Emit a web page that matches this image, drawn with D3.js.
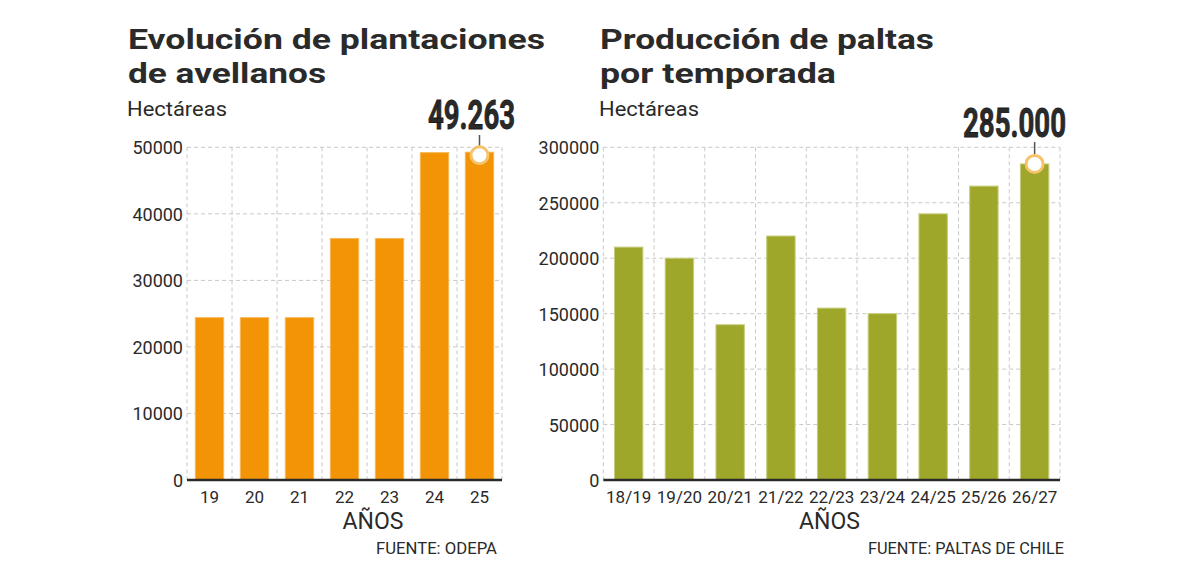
<!DOCTYPE html>
<html><head><meta charset="utf-8">
<script src="https://cdn.jsdelivr.net/npm/d3@7/dist/d3.min.js"></script>
<style>
html,body{margin:0;padding:0;background:#fff;}
text{font-family:Roboto,"Noto Sans",sans-serif;fill:#2a2a2a;}
</style></head>
<body>
<svg id="c" width="1200" height="574"></svg>
<script>
// Data
const avellanosYears = ["19","20","21","22","23","24","25"];
const avellanosValues = [24400, 24400, 24400, 36300, 36300, 49200, 49263];
const avellanosTicks = [0, 10000, 20000, 30000, 40000, 50000];

const paltasSeasons = ["18/19","19/20","20/21","21/22","22/23","23/24","24/25","25/26","26/27"];
const paltasValues = [210000, 200000, 140000, 220000, 155000, 150000, 240000, 265000, 285000];
const paltasTicks = [0, 50000, 100000, 150000, 200000, 250000, 300000];

const svg = d3.select("#c");

function drawChart(cfg){
  const g = svg.append("g");
  const x = d3.scaleBand().domain(cfg.cats).range([cfg.x0, cfg.x1]).paddingInner(cfg.pad).paddingOuter(cfg.pad/2);
  const xb = d3.scaleBand().domain(cfg.cats).range([cfg.x0, cfg.x1]);
  const y = d3.scaleLinear().domain([0, cfg.max]).range([cfg.y0, cfg.y1]);

  // Title
  cfg.title.forEach((t,i)=>{
    g.append("text").attr("x", cfg.tx).attr("y", 49 + i*34)
      .attr("font-size", 28).attr("font-weight", 700).attr("fill","#1a1a1a")
      .attr("textLength", cfg.titleW[i]).attr("lengthAdjust","spacingAndGlyphs")
      .text(t);
  });
  g.append("text").attr("x", cfg.tx - 1).attr("y", 116).attr("font-size", 20).attr("fill","#2a2a2a")
    .attr("textLength", 100).attr("lengthAdjust","spacingAndGlyphs").text("Hectáreas");

  // Grid horizontal
  g.append("g").selectAll("line").data(cfg.ticks.filter(d=>d>0)).join("line")
    .attr("x1", cfg.x0).attr("x2", cfg.x1).attr("y1", d=>y(d)).attr("y2", d=>y(d))
    .attr("stroke","#c8c8c8").attr("stroke-width",1).attr("stroke-dasharray","4,3");
  // Grid vertical at band boundaries
  const bounds = cfg.cats.map(c=>xb(c)).concat([cfg.x1]);
  g.append("g").selectAll("line").data(bounds).join("line")
    .attr("x1", d=>d).attr("x2", d=>d).attr("y1", y(cfg.max)).attr("y2", cfg.y0)
    .attr("stroke","#c8c8c8").attr("stroke-width",1).attr("stroke-dasharray","4,3");

  // Bars
  g.append("g").selectAll("rect").data(cfg.vals).join("rect")
    .attr("x", (d,i)=>x(cfg.cats[i])).attr("width", x.bandwidth())
    .attr("y", d=>y(d)).attr("height", d=>cfg.y0 - y(d))
    .attr("fill", cfg.color).attr("stroke", cfg.stroke).attr("stroke-width", 1);

  // Y axis labels
  const ya = d3.axisLeft(y).tickValues(cfg.ticks).tickSize(0).tickPadding(0).tickFormat(d3.format("d"));
  const yg = g.append("g").attr("transform", `translate(${cfg.x0 - 4},0)`).call(ya);
  yg.select(".domain").remove();
  yg.selectAll("text").attr("font-size", 18).attr("fill","#2a2a2a").attr("font-family","Roboto,sans-serif").attr("dy","0.36em");

  // X axis
  const xa = d3.axisBottom(xb).tickSize(0).tickPadding(0);
  const xg = g.append("g").attr("transform", `translate(0,${cfg.y0})`).call(xa);
  xg.select(".domain").remove();
  xg.selectAll("text").attr("font-size", 17).attr("fill","#2a2a2a").attr("font-family","Roboto,sans-serif").attr("dy", 0).attr("y", 23);
  g.append("line").attr("x1", cfg.x0).attr("x2", cfg.x1).attr("y1", cfg.y0).attr("y2", cfg.y0)
    .attr("stroke","#2a2a2a").attr("stroke-width",2.5);

  g.append("text").attr("x", cfg.anosX).attr("y", 529).attr("text-anchor","middle").attr("font-size", 23).text("AÑOS");
  g.append("text").attr("x", cfg.srcX).attr("y", 554).attr("text-anchor","end").attr("font-size", 16.5)
    .attr("textLength", cfg.srcW).attr("lengthAdjust","spacingAndGlyphs").text(cfg.src);

  // Highlight
  const li = cfg.vals.length - 1;
  const cx = x(cfg.cats[li]) + x.bandwidth()/2;
  const cy = y(cfg.vals[li]) + cfg.cOff;
  g.append("line").attr("x1", cx).attr("x2", cx).attr("y1", cfg.leadTop).attr("y2", cy - 9)
    .attr("stroke","#555").attr("stroke-width",1.5);
  g.append("circle").attr("cx", cx).attr("cy", cy).attr("r", 8.5)
    .attr("fill","#fff").attr("stroke","#f6c36a").attr("stroke-width",3);
  g.append("text").attr("x", cfg.bigX).attr("y", cfg.bigY)
    .attr("font-family","'Liberation Sans Narrow','DejaVu Sans Condensed',sans-serif")
    .attr("font-weight",700).attr("font-size", 40).attr("fill","#1a1a1a")
    .attr("textLength", cfg.bigW).attr("lengthAdjust","spacingAndGlyphs")
    .attr("stroke","#1a1a1a").attr("stroke-width",0.8)
    .text(cfg.bigLabel);
}

drawChart({
  cats: avellanosYears, vals: avellanosValues, ticks: avellanosTicks, max: 50000,
  x0: 187, x1: 502, y0: 480, y1: 147.3, pad: 0.37,
  color: "#f29406", stroke: "#f7b858",
  title: ["Evolución de plantaciones", "de avellanos"], titleW: [417, 198], tx: 128,
  anosX: 373, srcX: 497, src: "FUENTE: ODEPA", srcW: 121,
  bigLabel: "49.263", bigX: 428, bigY: 129, bigW: 87, leadTop: 135, cOff: 3
});

drawChart({
  cats: paltasSeasons, vals: paltasValues, ticks: paltasTicks, max: 300000,
  x0: 603.3, x1: 1060, y0: 480, y1: 147.3, pad: 0.44,
  color: "#9ea72a", stroke: "#c8cd7e",
  title: ["Producción de paltas", "por temporada"], titleW: [334, 236], tx: 600,
  anosX: 829.5, srcX: 1064, src: "FUENTE: PALTAS DE CHILE", srcW: 196,
  bigLabel: "285.000", bigX: 963, bigY: 137, bigW: 103, leadTop: 142, cOff: 0
});
</script>
</body></html>
